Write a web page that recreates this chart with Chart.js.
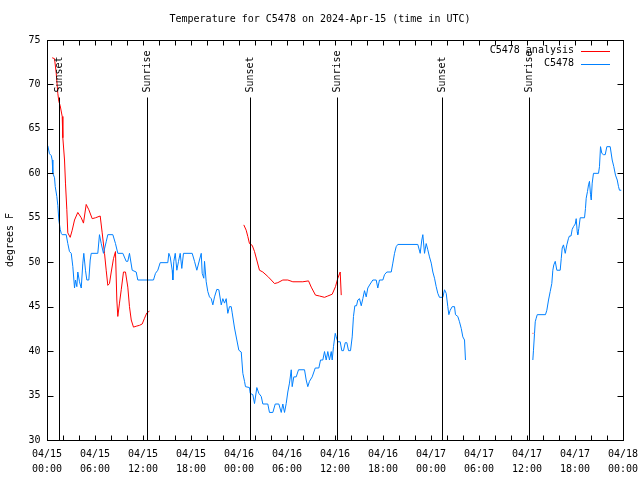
<!DOCTYPE html>
<html>
<head>
<meta charset="utf-8">
<title>Temperature for C5478</title>
<script src="https://cdn.jsdelivr.net/npm/chart.js@4"></script>
<style>
  body { margin: 0; background: #fff; }
  canvas { display: block; }
</style>
</head>
<body>
<canvas id="myChart" width="640" height="480"></canvas>
<script>
// hours since 2024-04-15 00:00 UTC, temperature in F
const obsHours = [
  0.1, 0.31, 0.53, 0.65, 0.73, 0.94, 1.03, 1.23, 1.35, 1.48, 1.65, 1.78, 1.9, 2.4, 2.6, 2.81, 3.03, 3.23, 3.44, 3.56,
  3.73, 3.85, 4.06, 4.28, 4.48, 4.6, 4.81, 4.98, 5.23, 5.4, 5.53, 6.35, 6.56, 6.78, 7.06, 7.4, 7.6, 8.23, 8.56, 8.85,
  9.48, 9.9, 10.1, 10.31, 10.65, 11.15, 11.35, 13.31, 13.56, 13.85, 14.15, 15.1, 15.23, 15.4, 15.65, 15.73, 15.85, 16.03, 16.23, 16.44,
  16.65, 16.85, 17.06, 18.15, 18.44, 18.73, 19.06, 19.28, 19.4, 19.6, 19.69, 19.9, 20.1, 20.31, 20.53, 20.73, 20.94, 21.23, 21.48, 21.78,
  21.98, 22.19, 22.4, 22.6, 22.81, 23.03, 23.15, 23.44, 23.73, 23.98, 24.28, 24.48, 24.69, 24.81, 25.31, 25.4, 25.73, 25.94, 26.23, 26.48,
  26.78, 26.98, 27.6, 27.81, 28.23, 28.53, 28.98, 29.28, 29.48, 29.69, 29.9, 30.1, 30.31, 30.53, 30.65, 30.85, 31.15, 31.44, 32.19, 32.4,
  32.6, 32.81, 33.15, 33.53, 33.98, 34.19, 34.48, 34.69, 34.9, 35.1, 35.31, 35.53, 35.65, 35.81, 36.03, 36.15, 36.35, 36.65, 36.85, 37.06,
  37.28, 37.48, 37.69, 37.94, 38.15, 38.31, 38.48, 38.69, 38.85, 39.06, 39.28, 39.48, 39.69, 39.9, 40.1, 40.4, 40.73, 41.15, 41.35, 41.56,
  41.98, 42.19, 42.48, 43.03, 43.23, 43.44, 43.65, 43.85, 46.35, 46.65, 46.85, 46.98, 47.19, 47.4, 47.6, 47.81, 48.03, 48.23, 48.44, 48.65,
  48.85, 49.06, 49.48, 49.69, 49.9, 50.1, 50.23, 50.4, 50.65, 50.94, 51.06, 51.35, 51.56, 51.78, 51.98, 52.19, 52.31,
  56.5,
  60.73, 60.81, 60.94, 61.03, 61.15, 61.28, 62.31, 62.48, 62.69, 62.9, 63.1, 63.23, 63.35, 63.53, 63.73, 64.15, 64.28, 64.4, 64.56, 64.78,
  64.98, 65.19, 65.31, 65.5, 65.65, 65.81, 66.03, 66.15, 66.28, 66.35, 66.48, 66.65, 67.19, 67.31, 67.4, 67.56, 67.69, 67.81, 67.94, 68.03,
  68.15, 68.31, 68.94, 69.06, 69.19, 69.35, 69.56, 69.78, 69.98, 70.4, 70.65, 70.85, 71.06, 71.28, 71.44, 71.56, 71.78
];
const obsTemps = [
  63.1, 62.2, 62.0, 61.5, 60.0, 59.5, 58.5, 57.4, 56.4, 54.75, 53.7, 53.25, 53.1, 53.1, 52.1, 51.2, 51.0, 49.5, 47.1, 48.0,
  47.25, 48.9, 47.8, 47.1, 49.9, 51.0, 49.1, 48.0, 48.0, 50.25, 51.0, 51.0, 53.1, 52.1, 51.0, 52.3, 53.1, 53.1, 52.1, 51.0,
  51.0, 50.1, 50.1, 51.0, 49.1, 48.9, 48.0, 48.0, 48.75, 49.1, 49.95, 49.95, 51.0, 50.6, 49.1, 48.0, 50.1, 51.0, 49.1, 50.1,
  51.0, 49.3, 51.0, 51.0, 50.1, 49.1, 50.25, 51.0, 48.75, 48.2, 50.1, 47.8, 46.7, 46.1, 45.9, 45.2, 46.1, 46.95, 46.9, 45.2,
  45.9, 45.4, 45.9, 44.25, 45.0, 45.0, 44.3, 42.6, 41.25, 40.1, 39.9, 37.5, 36.6, 36.0, 35.9, 35.25, 35.1, 34.1, 35.9, 35.25,
  34.9, 34.05, 34.05, 33.1, 33.1, 34.05, 34.05, 33.1, 34.05, 33.1, 34.1, 35.4, 36.4, 37.9, 36.0, 37.1, 37.1, 37.9, 37.9, 36.75,
  36.0, 36.6, 37.1, 38.1, 38.1, 39.0, 39.0, 39.95, 39.0, 39.95, 39.0, 39.95, 39.0, 40.5, 42.0, 41.6, 41.05, 41.05, 40.05, 40.05,
  40.95, 40.95, 40.05, 40.05, 41.6, 43.9, 45.1, 45.1, 45.75, 45.9, 45.1, 45.9, 46.8, 46.1, 47.1, 47.55, 48.0, 48.0, 47.1, 48.0,
  48.0, 48.6, 48.9, 48.9, 49.9, 51.0, 51.75, 52.0, 52.0, 51.0, 52.5, 53.1, 51.0, 52.1, 51.4, 50.6, 49.9, 48.9, 48.2, 47.25,
  46.5, 46.05, 46.05, 46.9, 46.5, 45.0, 44.1, 44.6, 45.0, 45.0, 44.1, 43.9, 43.3, 42.55, 41.6, 41.25, 39.0,
  null,
  39.0, 40.1, 42.0, 43.3, 43.7, 44.1, 44.1, 44.6, 45.75, 46.7, 47.6, 49.1, 49.7, 50.1, 49.1, 49.1, 50.4, 51.6, 51.95, 51.0,
  51.95, 52.7, 52.95, 52.95, 53.7, 54.0, 54.3, 54.9, 53.4, 53.1, 53.8, 55.0, 55.0, 56.05, 57.2, 57.95, 58.7, 59.1, 57.6, 57.0,
  58.9, 60.0, 60.0, 60.75, 63.0, 62.25, 62.1, 62.1, 63.0, 63.0, 61.5, 60.75, 59.8, 59.25, 58.5, 58.1, 58.1
];

const anaHours = [
  0.65, 0.94, 1.15, 1.35, 1.48, 1.65, 1.9, 1.98, 2.19, 2.31, 2.48, 2.6, 2.9, 3.15, 3.44, 3.85, 4.28, 4.56, 4.9, 5.23,
  5.65, 6.06, 6.65, 6.9, 7.19, 7.4, 7.6, 7.81, 8.03, 8.31, 8.56, 8.73, 8.85, 9.06, 9.28, 9.56, 9.81, 10.1, 10.31, 10.53,
  10.81, 11.15, 11.56, 11.9, 12.19, 12.48, 12.81,
  18.0,
  24.6, 24.9, 25.1, 25.31, 25.65, 25.94, 26.22, 26.56, 26.98, 27.6, 28.03, 28.44, 28.85, 29.48, 30.1, 30.73, 31.98, 32.69, 33.03, 33.56,
  34.06, 34.69, 35.1, 35.65, 36.06, 36.35, 36.65, 36.78,
  50.0,
  60.7, 60.8
];
const anaTemps = [
  73.0, 72.9, 71.3, 69.0, 68.1, 67.6, 66.4, 64.0, 61.5, 58.9, 55.9, 53.3, 52.8, 53.6, 54.75, 55.6, 55.0, 54.4, 56.5, 55.9,
  54.9, 55.0, 55.2, 53.3, 51.0, 49.1, 47.4, 47.6, 48.9, 50.4, 51.2, 45.75, 43.9, 45.4, 46.9, 48.9, 48.9, 47.2, 45.0, 43.5,
  42.7, 42.8, 42.9, 43.05, 43.7, 44.3, 44.5,
  null,
  54.2, 53.6, 52.9, 52.1, 51.9, 51.2, 50.25, 49.1, 48.9, 48.4, 48.0, 47.6, 47.7, 48.0, 48.0, 47.8, 47.8, 47.9, 47.2, 46.3,
  46.2, 46.05, 46.2, 46.4, 47.25, 48.2, 48.9, 46.3,
  null,
  42.0, 42.0
];

const sunHours = [1.45, 12.45, 25.4, 36.25, 49.35, 60.2];
const sunLabels = ['Sunset', 'Sunrise', 'Sunset', 'Sunrise', 'Sunset', 'Sunrise'];

const dayLabels = ['04/15', '04/16', '04/17', '04/18'];
const timeLabels = ['00:00', '06:00', '12:00', '18:00'];
const yTicks = [30, 35, 40, 45, 50, 55, 60, 65, 70, 75];

const FONT = '10px "DejaVu Sans Mono", "Liberation Mono", monospace';

const toPoints = (xs, ys) => xs.map((x, i) => ({ x: x, y: ys[i] }));

// gnuplot style frame, ticks, labels, sun markers and key
const gnuplotLook = {
  id: 'gnuplotLook',
  afterDatasetsDraw(chart) {
    const ctx = chart.ctx;
    const xs = chart.scales.x;
    const ys = chart.scales.y;
    const a = chart.chartArea;
    const L = Math.round(a.left) + 0.5, R = Math.round(a.right) + 0.5;
    const T = Math.round(a.top) + 0.5, B = Math.round(a.bottom) + 0.5;
    ctx.save();
    ctx.lineWidth = 1;
    ctx.strokeStyle = '#000';
    ctx.fillStyle = '#000';
    ctx.font = FONT;

    // sunrise / sunset lines
    sunHours.forEach((h, i) => {
      const px = Math.round(xs.getPixelForValue(h)) + 0.5;
      ctx.beginPath();
      ctx.moveTo(px, T + 57);
      ctx.lineTo(px, B);
      ctx.stroke();
      ctx.save();
      ctx.translate(px, T + 52);
      ctx.rotate(-Math.PI / 2);
      ctx.textAlign = 'left';
      ctx.textBaseline = 'middle';
      ctx.fillText(sunLabels[i], 0, 0);
      ctx.restore();
    });

    // frame
    ctx.strokeRect(L, T, R - L, B - T);

    // x ticks every 2 hours, top and bottom, pointing inward
    ctx.beginPath();
    for (let h = xs.min; h <= xs.max; h += 2) {
      const px = Math.round(xs.getPixelForValue(h)) + 0.5;
      ctx.moveTo(px, B); ctx.lineTo(px, B - 5);
      ctx.moveTo(px, T); ctx.lineTo(px, T + 5);
    }
    // y ticks, left and right
    yTicks.forEach(v => {
      const py = Math.round(ys.getPixelForValue(v)) + 0.5;
      ctx.moveTo(L, py); ctx.lineTo(L + 6, py);
      ctx.moveTo(R, py); ctx.lineTo(R - 6, py);
    });
    ctx.stroke();

    // y labels
    ctx.textAlign = 'right';
    ctx.textBaseline = 'middle';
    yTicks.forEach(v => {
      ctx.fillText(String(v), L - 7, ys.getPixelForValue(v));
    });

    // x labels every 6 hours
    ctx.textAlign = 'center';
    ctx.textBaseline = 'middle';
    for (let h = 0; h <= 72; h += 6) {
      const px = xs.getPixelForValue(h);
      ctx.fillText(dayLabels[Math.floor(h / 24)], px, B + 14);
      ctx.fillText(timeLabels[(h % 24) / 6], px, B + 29);
    }

    // title and axis label
    ctx.fillText('Temperature for C5478 on 2024-Apr-15 (time in UTC)', 320, 19);
    ctx.save();
    ctx.translate(10, 240);
    ctx.rotate(-Math.PI / 2);
    ctx.fillText('degrees F', 0, 0);
    ctx.restore();

    // key
    const keys = [['C5478 analysis', '#ff0000'], ['C5478', '#0080ff']];
    keys.forEach((k, i) => {
      const y = T + 10 + i * 13;
      ctx.textAlign = 'right';
      ctx.fillStyle = '#000';
      ctx.fillText(k[0], 574, y);
      ctx.strokeStyle = k[1];
      ctx.beginPath();
      ctx.moveTo(581, Math.round(y) + 0.5);
      ctx.lineTo(610, Math.round(y) + 0.5);
      ctx.stroke();
    });
    ctx.restore();
  }
};

const ctx = document.getElementById('myChart').getContext('2d');

new Chart(ctx, {
  type: 'line',
  data: {
    datasets: [
      {
        label: 'C5478',
        data: toPoints(obsHours, obsTemps),
        borderColor: '#0080ff',
        borderWidth: 1,
        pointRadius: 0,
        tension: 0,
        spanGaps: false
      },
      {
        label: 'C5478 analysis',
        data: toPoints(anaHours, anaTemps),
        borderColor: '#ff0000',
        borderWidth: 1,
        pointRadius: 0,
        tension: 0,
        spanGaps: false
      }
    ]
  },
  options: {
    responsive: false,
    animation: false,
    devicePixelRatio: 1,
    layout: { padding: { left: 47, right: 17, top: 40, bottom: 40 } },
    plugins: {
      legend: { display: false },
      tooltip: { enabled: false }
    },
    scales: {
      x: { type: 'linear', min: 0, max: 72, display: false },
      y: { type: 'linear', min: 30, max: 75, display: false }
    }
  },
  plugins: [gnuplotLook]
});
</script>
</body>
</html>
